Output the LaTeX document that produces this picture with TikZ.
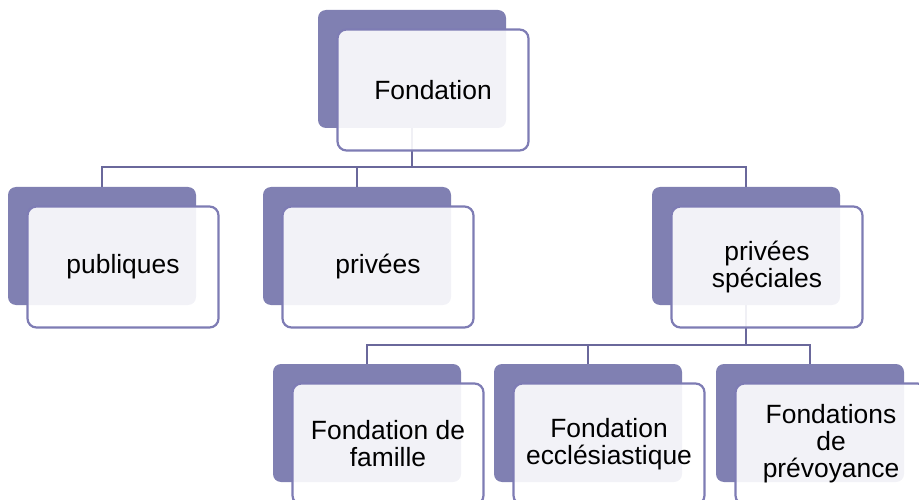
\documentclass[tikz,border=0pt]{standalone}
\usepackage{fontspec}
\setmainfont{Liberation Sans}
\definecolor{backfill}{RGB}{128,128,178}
\definecolor{frontline}{RGB}{126,124,180}
\definecolor{busline}{RGB}{106,104,155}
\begin{document}
\begin{tikzpicture}[x=1pt,y=-1pt,
  backbox/.style={draw=none,fill=backfill,rounded corners=8pt,
    minimum width=188pt,minimum height=118pt,inner sep=0pt},
  frontbox/.style={draw=frontline,line width=2.2pt,fill=white,fill opacity=0.9,
    text opacity=1,rounded corners=9pt,minimum width=191pt,minimum height=121pt,
    inner sep=0pt,align=center,font=\fontsize{26.4}{27}\selectfont},
  bus/.style={draw=busline,line width=2.2pt}]
\useasboundingbox (0,0) rectangle (919,500);
\begin{scope}
\clip (0,0) rectangle (919,500);
% shadow cards
\node[backbox] (top-back) at (412,69) {};
\node[backbox] (pub-back) at (102,246) {};
\node[backbox] (priv-back) at (357,246) {};
\node[backbox] (spec-back) at (746,246) {};
\node[backbox] (fam-back) at (367,423) {};
\node[backbox] (eccl-back) at (588,423) {};
\node[backbox] (prev-back) at (810,423) {};
% bus lines
\coordinate (bus1) at (0,167);
\coordinate (bus2) at (0,345);
\draw[bus] (top-back.south) -- (top-back.south |- bus1) -| (pub-back.north);
\draw[bus] (top-back.south |- bus1) -| (priv-back.north);
\draw[bus] (top-back.south |- bus1) -| (spec-back.north);
\draw[bus] (spec-back.south) -- (spec-back.south |- bus2) -| (fam-back.north);
\draw[bus] (spec-back.south |- bus2) -| (eccl-back.north);
\draw[bus] (spec-back.south |- bus2) -| (prev-back.north);
% front cards with labels
\node[frontbox] (top) at (433,90) {Fondation};
\node[frontbox] (pub) at (123,267) {publiques};
\node[frontbox] (priv) at (378,267) {privées};
\node[frontbox] (spec) at (767,267) {privées\\spéciales};
\node[frontbox] (fam) at (388,444) {Fondation de\\famille};
\node[frontbox] (eccl) at (609,444) {Fondation\\ecclésiastique};
\node[frontbox] (prev) at (831,444) {Fondations\\de\\prévoyance};
\end{scope}
\end{tikzpicture}
\end{document}
